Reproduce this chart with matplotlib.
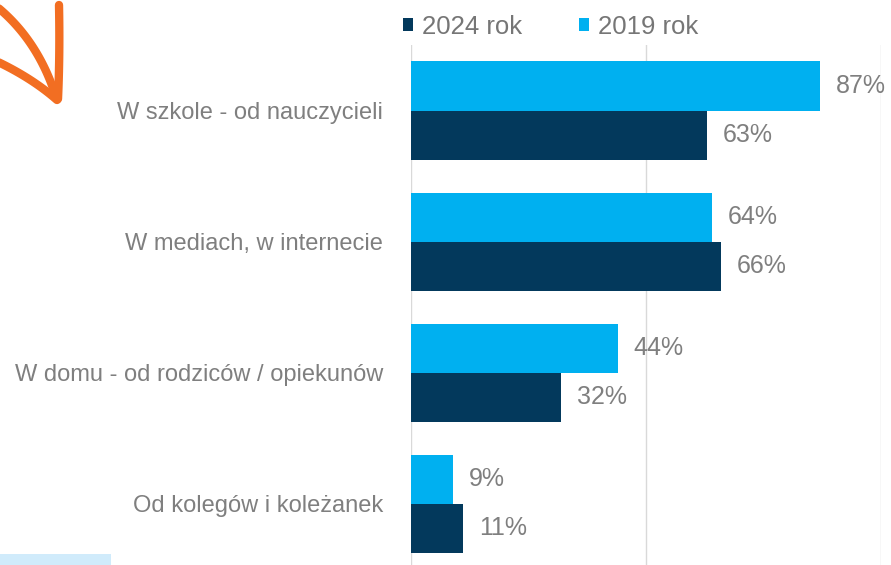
import matplotlib.pyplot as plt
from matplotlib.patches import Rectangle
import numpy as np

plt.rcParams['font.family'] = ['Liberation Sans', 'DejaVu Sans']

# DATA
categories = ['W szkole - od nauczycieli', 'W mediach, w internecie',
              'W domu - od rodziców / opiekunów', 'Od kolegów i koleżanek']
vals_2019 = [87, 64, 44, 9]
vals_2024 = [63, 66, 32, 11]
series_names = ['2024 rok', '2019 rok']

c_2024 = '#03395c'
c_2019 = '#00b0f0'
txt_gray = '#7f7f7f'

fig = plt.figure(figsize=(8.91, 5.65), dpi=100)
ax = fig.add_axes([411 / 891, -0.008, 470 / 891, 0.9284])

y = np.arange(len(categories))
h = 0.374
b19 = ax.barh(y - h / 2, vals_2019, height=h, color=c_2019)
b24 = ax.barh(y + h / 2, vals_2024, height=h, color=c_2024)

for bars in (b19, b24):
    for r in bars:
        w = r.get_width()
        ax.annotate(f'{w:.0f}%', xy=(w, r.get_y() + r.get_height() / 2),
                    xytext=(11.5, 0), textcoords='offset points',
                    ha='left', va='center', fontsize=18, color=txt_gray)

ax.set_xlim(0, 100)
ax.set_ylim(len(categories) - 0.5, -0.5)
ax.set_xticks([0, 50, 100])
ax.xaxis.grid(True, color='#d9d9d9', lw=1)
ax.set_axisbelow(True)
ax.tick_params(axis='x', length=0, labelbottom=False)
ax.set_yticks(y)
ax.set_yticklabels(categories, fontsize=17, color=txt_gray)
ax.tick_params(axis='y', length=0, pad=20)
for s in ax.spines.values():
    s.set_visible(False)

fig.legend([b24, b19], series_names, loc='center left',
           bbox_to_anchor=(403 / 891, 1 - 27 / 565), ncol=2, frameon=False,
           fontsize=18.5, labelcolor='#767676', handlelength=0.4, handleheight=0.4,
           handletextpad=0.35, columnspacing=2.2, borderpad=0, borderaxespad=0)

# decorations: orange hand-drawn arrow and light blue strip (pixel coords)
deco = fig.add_axes([0, 0, 1, 1], zorder=-1)
deco.set_xlim(0, 891)
deco.set_ylim(565, 0)
deco.axis('off')


def bez(p0, p1, p2, n=40):
    t = np.linspace(0, 1, n)[:, None]
    p = (1 - t) ** 2 * np.array(p0) + 2 * (1 - t) * t * np.array(p1) + t ** 2 * np.array(p2)
    return p[:, 0], p[:, 1]


orange = '#f26e22'
kw = dict(color=orange, lw=6, solid_capstyle='round', solid_joinstyle='round')
deco.plot(*bez((-4, 6), (38, 40), (56, 97)), **kw)
deco.plot(*bez((59, 5), (60, 55), (58, 99)), **kw)
deco.plot(*bez((-4, 61), (32, 78), (57, 100)), **kw)
deco.add_patch(Rectangle((0, 554), 111, 12, color='#d0ebfb', lw=0))

fig.savefig('out.png', dpi=100)
